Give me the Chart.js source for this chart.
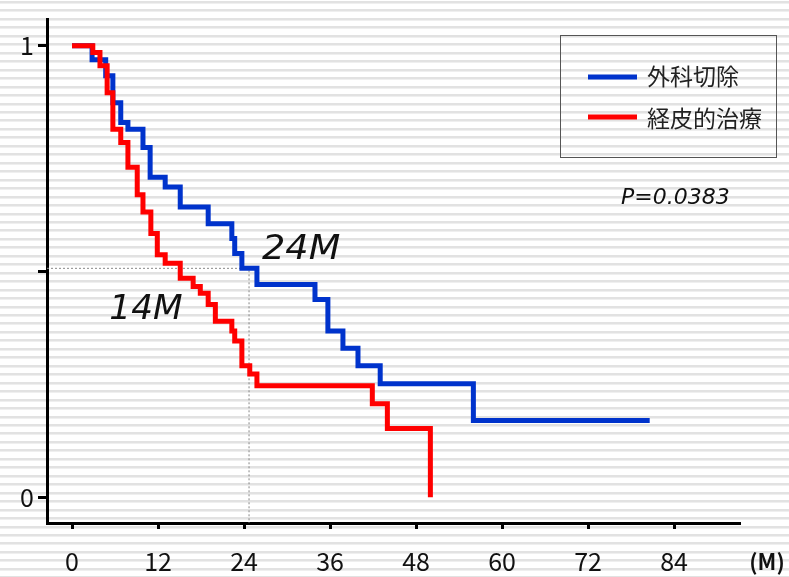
<!DOCTYPE html>
<html>
<head>
<meta charset="utf-8">
<script src="https://cdn.jsdelivr.net/npm/chart.js@4/dist/chart.umd.min.js"></script>
<style>
  html, body { margin: 0; padding: 0; background: #fff; }
  #wrap { width: 789px; height: 577px; }
</style>
</head>
<body>
<div id="wrap"><canvas id="km"></canvas></div>
<script>
// Kaplan-Meier curves (months, survival after each drop)
var surgeryTimes = [0, 2.8, 4.7, 5.7, 6.8, 7.8, 9.9, 10.9, 13.0, 15.1, 19.0, 22.3, 22.7, 23.7, 25.8, 33.9, 35.7, 37.8, 39.9, 43.0, 56.0, 80.6];
var surgerySurv  = [1, 0.969, 0.934, 0.874, 0.830, 0.815, 0.775, 0.709, 0.687, 0.643, 0.606, 0.573, 0.540, 0.507, 0.471, 0.438, 0.368, 0.330, 0.291, 0.251, 0.170, 0.170];

var percTimes = [0, 2.9, 3.9, 4.9, 5.7, 6.8, 7.8, 9.1, 9.9, 11.0, 11.9, 13.0, 15.1, 16.9, 17.9, 19.0, 20.0, 22.3, 22.7, 23.7, 24.8, 25.8, 41.9, 44.0, 50.0];
var percSurv  = [1, 0.985, 0.956, 0.896, 0.815, 0.786, 0.731, 0.670, 0.632, 0.584, 0.537, 0.518, 0.485, 0.467, 0.452, 0.427, 0.390, 0.368, 0.346, 0.291, 0.273, 0.247, 0.207, 0.152, 0];

var seriesNames = ['外科切除', '経皮的治療'];
var xTicks = [0, 12, 24, 36, 48, 60, 72, 84];
var yTicks = [0, 0.5, 1];
var yTickLabels = ['0', '', '1'];
var medianSurgery = 24, medianPerc = 14;
var medianLine = { x: 24.7, y: 0.507 };   // dotted guide as drawn in the picture
var pValue = 'P=0.0383';

var xMin = -3.49, xMax = 93.2;
var yMin = -0.0573, yMax = 1.0595;

function toPoints(ts, ss) {
    return ts.map(function (t, i) { return { x: t, y: ss[i] }; });
}

// horizontal stripes behind everything
var stripes = {
    id: 'stripes',
    beforeDraw: function (chart) {
        var ctx = chart.ctx;
        ctx.save();
        ctx.fillStyle = '#ffffff';
        ctx.fillRect(0, 0, chart.width, chart.height);
        for (var y = 1.0; y < chart.height; y += 8.46) {
            ctx.fillStyle = '#e2e2e2';
            ctx.fillRect(0, Math.round(y), chart.width, 2);
            ctx.fillStyle = '#efefef';
            ctx.fillRect(0, Math.round(y) + 2, chart.width, 1);
        }
        ctx.restore();
    }
};

function stretchedText(ctx, txt, x, y, sx) {
    ctx.save();
    ctx.translate(x, y);
    ctx.scale(sx, 1);
    ctx.fillText(txt, 0, 0);
    ctx.restore();
}

// boxed legend in the top right + text notes
var notes = {
    id: 'notes',
    afterDraw: function (chart) {
        var ctx = chart.ctx;
        var xs = chart.scales.x, ys = chart.scales.y;
        ctx.save();

        // legend
        ctx.strokeStyle = '#555';
        ctx.lineWidth = 1;
        ctx.strokeRect(560.5, 35.5, 216, 122);
        var rows = chart.data.datasets.filter(function (d) { return d.label; });
        ctx.font = '23px "Noto Sans CJK JP"';
        ctx.textBaseline = 'middle';
        ctx.textAlign = 'left';
        rows.forEach(function (d, i) {
            var cy = 77 + i * 40;
            ctx.strokeStyle = d.borderColor;
            ctx.lineWidth = 5;
            ctx.beginPath();
            ctx.moveTo(588, cy);
            ctx.lineTo(637, cy);
            ctx.stroke();
            ctx.fillStyle = '#222';
            ctx.fillText(d.label, 647, cy - 1 + i * 2);
        });

        ctx.fillStyle = '#111';
        ctx.font = 'italic 22px "DejaVu Sans"';
        ctx.textAlign = 'left';
        ctx.fillText(pValue, 621, 198);

        // median labels
        ctx.font = 'italic 33px "DejaVu Sans"';
        ctx.textBaseline = 'alphabetic';
        stretchedText(ctx, medianSurgery + 'M', xs.getPixelForValue(medianSurgery) + 18, 259, 1.11);
        stretchedText(ctx, medianPerc + 'M', xs.getPixelForValue(medianPerc) - 63, 319, 1.04);

        // unit
        ctx.textBaseline = 'middle';
        ctx.font = 'bold 22px "Noto Sans CJK JP"';
        ctx.textAlign = 'center';
        ctx.fillText('(M)', 767, 562);
        ctx.restore();
    }
};

new Chart(document.getElementById('km'), {
    type: 'line',
    data: {
        datasets: [{
            label: seriesNames[0],
            data: toPoints(surgeryTimes, surgerySurv),
            borderColor: '#0033cc',
            borderWidth: 5,
            stepped: 'before',
            pointRadius: 0,
            fill: false,
            order: 1
        }, {
            label: seriesNames[1],
            data: toPoints(percTimes, percSurv),
            borderColor: '#ff0000',
            borderWidth: 5,
            stepped: 'before',
            pointRadius: 0,
            fill: false,
            order: 0
        }, {
            label: '',
            data: [{ x: xMin, y: medianLine.y }, { x: medianLine.x, y: medianLine.y }, { x: medianLine.x, y: yMin }],
            borderColor: '#888',
            borderWidth: 1,
            borderDash: [2, 2],
            pointRadius: 0,
            fill: false,
            order: 2
        }]
    },
    options: {
        responsive: true,
        maintainAspectRatio: false,
        animation: false,
        layout: { padding: { top: 15, right: 49, left: 0, bottom: 0 } },
        plugins: {
            legend: { display: false },
            tooltip: { enabled: false }
        },
        scales: {
            x: {
                type: 'linear',
                min: xMin,
                max: xMax,
                afterFit: function (s) { s.height = 54; },
                afterBuildTicks: function (s) { s.ticks = xTicks.map(function (v) { return { value: v }; }); },
                border: { display: true, color: '#000', width: 3 },
                grid: { display: true, drawOnChartArea: false, drawTicks: true, tickLength: 6, tickColor: '#000', tickWidth: 3 },
                ticks: {
                    color: '#111',
                    padding: 17,
                    maxRotation: 0,
                    autoSkip: false,
                    font: { family: '"Noto Sans CJK JP"', size: 25 }
                }
            },
            y: {
                min: yMin,
                max: yMax,
                afterFit: function (s) { s.width = 47; },
                afterBuildTicks: function (s) { s.ticks = yTicks.map(function (v) { return { value: v }; }); },
                border: { display: true, color: '#000', width: 3 },
                grid: { display: true, drawOnChartArea: false, drawTicks: true, tickLength: 9, tickColor: '#000', tickWidth: 3 },
                ticks: {
                    color: '#111',
                    padding: 4,
                    autoSkip: false,
                    font: { family: '"Noto Sans CJK JP"', size: 25 },
                    callback: function (v) {
                        var i = yTicks.indexOf(v);
                        return i >= 0 ? yTickLabels[i] : '';
                    }
                }
            }
        }
    },
    plugins: [stripes, notes]
});
</script>
</body>
</html>
